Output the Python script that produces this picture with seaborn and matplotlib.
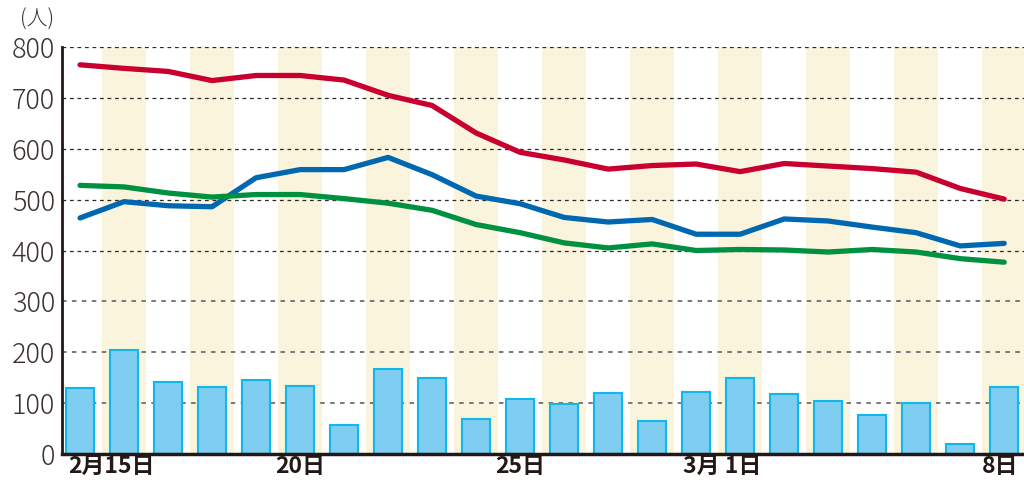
import matplotlib
matplotlib.use("Agg")
import matplotlib.pyplot as plt
import matplotlib.transforms as mtransforms
import seaborn as sns
import pandas as pd
import numpy as np

# days from Feb 15 to Mar 8
day_labels = [f"2/{d}" for d in range(15, 29)] + [f"3/{d}" for d in range(1, 9)]
tick_idx = [0, 5, 10, 14, 21]
tick_text = ["2月15日", "20日", "25日", "3月 1日", "8日"]

bar_values = [130, 204, 142, 132, 145, 134, 57, 168, 149, 68, 109,
              98, 119, 64, 121, 149, 117, 104, 76, 101, 19, 131]
red_values = [765, 758, 752, 734, 744, 744, 735, 705, 685, 631, 593,
              578, 560, 567, 570, 555, 571, 566, 561, 554, 522, 501]
blue_values = [464, 496, 488, 486, 543, 559, 559, 583, 549, 507, 492,
               465, 456, 461, 432, 432, 462, 458, 446, 435, 409, 414]
green_values = [528, 525, 513, 505, 510, 510, 502, 493, 479, 451, 435,
                415, 405, 413, 400, 402, 401, 397, 402, 397, 384, 377]

sns.set_style("white")
plt.rcParams['font.family'] = ['Noto Sans CJK JP', 'DejaVu Sans']

idx = np.arange(len(day_labels))
df = pd.DataFrame({"idx": idx, "day": day_labels, "bars": bar_values,
                   "red": red_values, "blue": blue_values, "green": green_values})

fig = plt.figure(figsize=(10.24, 4.82), dpi=100)
ax = fig.add_axes([62 / 1024, 1 - 454 / 482, 1 - 62 / 1024, (454 - 47) / 482])

# alternating day stripes
for i in idx[1::2]:
    ax.axvspan(i - 0.5, i + 0.5, ymin=0, ymax=1, color="#fbf4dc", lw=0, zorder=0)

# gridlines: lower ones grey, upper ones darker
for v in range(100, 801, 100):
    if v <= 300:
        ax.axhline(v, color="#6e6e6e", lw=1.3, ls=(0, (2.5, 3)), zorder=0.5)
    else:
        ax.axhline(v, color="#2a2a2a", lw=0.9, ls=(0, (3, 3)), zorder=0.5)

sns.barplot(data=df, x="idx", y="bars", color="#7fcdf1", saturation=1,
            width=0.65, edgecolor="#10b8ea", linewidth=1.5, ax=ax, zorder=2)

for col, c in [("red", "#c9002f"), ("blue", "#0068b1"), ("green", "#009140")]:
    sns.lineplot(data=df, x="idx", y=col, color=c, lw=3.8, ax=ax, zorder=3,
                 solid_capstyle="round", solid_joinstyle="round")

ax.set_xlim(-0.41, 21.45)
ax.set_ylim(0, 800)
ax.set_yticks(range(0, 801, 100))
ax.set_xticks(tick_idx)
ax.set_xticklabels(tick_text, fontsize=16.5, fontweight="bold", color="#231815")
ax.tick_params(axis="y", labelsize=19.5, colors="#3a3330", length=0, pad=5)
ax.tick_params(axis="x", length=0, pad=1)
for lbl in ax.get_yticklabels():
    lbl.set_fontweight("light")

# shift month labels so they start near the bar edge
offs = {0: ("left", -12), 3: ("left", -13), 4: ("center", -4)}
for k, lbl in enumerate(ax.get_xticklabels()):
    if k in offs:
        ha, dx = offs[k]
        lbl.set_horizontalalignment(ha)
        lbl.set_transform(lbl.get_transform() +
                          mtransforms.ScaledTranslation(dx / 100, 0, fig.dpi_scale_trans))

ax.set_xlabel("")
ax.set_ylabel("")
for s in ["top", "right"]:
    ax.spines[s].set_visible(False)
ax.spines["left"].set_linewidth(2)
ax.spines["left"].set_color("#231815")
ax.spines["bottom"].set_linewidth(2.5)
ax.spines["bottom"].set_color("#231815")

fig.text(37 / 1024, 1 - 20 / 482, "(人)", fontsize=15, color="#3a3330",
         ha="center", va="center", fontweight="light")

fig.savefig("out.png", dpi=100)
